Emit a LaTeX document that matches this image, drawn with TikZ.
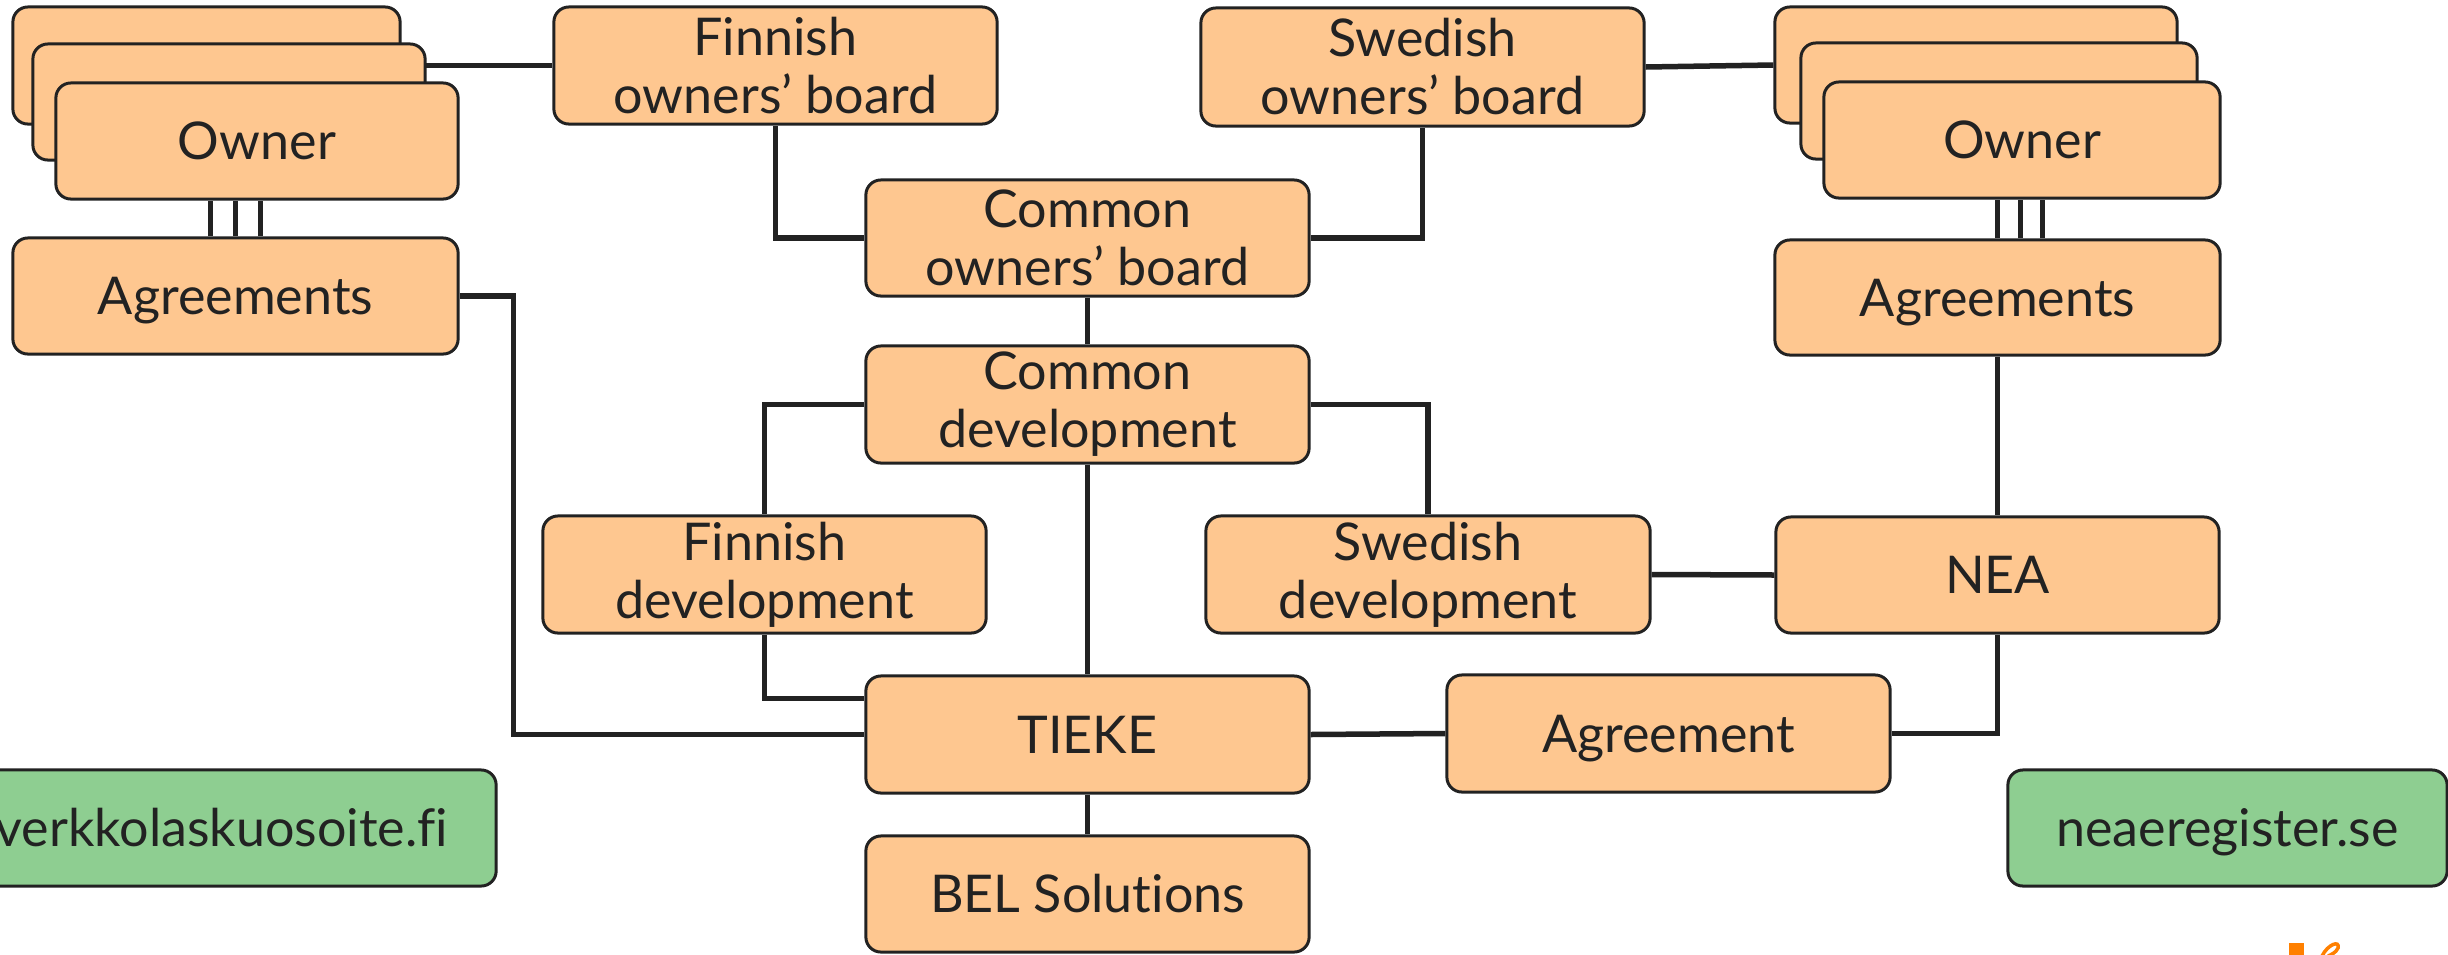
\documentclass[tikz,border=0pt]{standalone}
\usepackage{fontspec}
\setmainfont{Lato}[Ligatures={NoCommon}]
\usetikzlibrary{backgrounds}
\definecolor{boxorange}{HTML}{FEC790}
\definecolor{boxgreen}{HTML}{8ECE91}
\definecolor{ink}{HTML}{222222}
\definecolor{logoorange}{HTML}{FF8000}
\begin{document}
\begin{tikzpicture}[x=0.01cm,y=-0.01cm,
  box/.style={draw=ink, line width=0.03cm, fill=boxorange, rounded corners=0.15cm,
    minimum width=4.43cm, minimum height=1.16cm, inner sep=0pt, align=center,
    text=ink, font=\fontsize{14.8pt}{16.5pt}\selectfont},
  one/.style={text height=10.6pt, text depth=0pt},
  gbox/.style={box, one, fill=boxgreen},
  conn/.style={draw=ink, line width=0.055cm}]
\useasboundingbox (0,0) rectangle (2448,954);
\clip (0,0) rectangle (2448,954);
% left owners
\node[box, minimum width=3.87cm, minimum height=1.17cm] (own1L) at (206.5,65.5) {};
\node[box, minimum width=3.92cm] (own2L) at (229,102) {};
\node[box, one, minimum width=4.02cm] (ownL) at (257,141) {Owner};
\node[box, one, minimum width=4.45cm] (agrL) at (235.5,296) {Agreements};
% right owners
\node[box, minimum width=4.02cm] (own1R) at (1976,65) {};
\node[box, minimum width=3.96cm] (own2R) at (1999,101) {};
\node[box, one, minimum width=3.96cm] (ownR) at (2022,140) {Owner};
\node[box, one, minimum width=4.45cm, minimum height=1.15cm] (agrR) at (1997.5,297.5) {Agreements};
% boards
\node[box, minimum height=1.17cm] (FOB) at (775.5,65.5) {Finnish\\owners’ board};
\node[box, minimum height=1.18cm] (SOB) at (1422.5,67) {Swedish\\owners’ board};
\node[box] (COB) at (1087.5,238) {Common\\owners’ board};
\node[box, minimum height=1.17cm] (CD) at (1087.5,404.5) {Common\\development};
\node[box, minimum height=1.17cm] (FD) at (764.5,574.5) {Finnish\\development};
\node[box, minimum width=4.44cm, minimum height=1.17cm] (SD) at (1428,574.5) {Swedish\\development};
\node[box, one] (NEA) at (1997.5,575) {NEA};
\node[box, one, minimum height=1.17cm] (TIEKE) at (1087.5,734.5) {TIEKE};
\node[box, one, minimum height=1.17cm] (AGR) at (1668.5,733.5) {Agreement};
\node[box, one] (BEL) at (1087.5,894) {BEL Solutions};
\node[gbox, minimum width=5.48cm] (VERK) at (222,828) {verkkolaskuosoite.fi};
\node[gbox, minimum width=4.39cm] (NEAR) at (2227.5,828) {neaeregister.se};
% connectors
\begin{scope}[on background layer]
\draw[conn] (own1L.east) -- (FOB.west);
\foreach \dx in {-0.25,0,0.25}
  \draw[conn] ([xshift=\dx cm]agrL.north) -- ([xshift=\dx cm]agrL.north |- ownL.south);
\foreach \dx in {0,0.23,0.45}
  \draw[conn] ([xshift=\dx cm]agrR.north) -- ([xshift=\dx cm]agrR.north |- ownR.south);
\draw[conn] (FOB.south) |- (COB.west);
\draw[conn] (SOB.south) |- (COB.east);
\draw[conn] (SOB.east) -- (own1R.west);
\draw[conn] (COB.south) -- (CD.north);
\draw[conn] (CD.west) -| (FD.north);
\draw[conn] (CD.east) -| (SD.north);
\draw[conn] (CD.south) -- (TIEKE.north);
\draw[conn] (FD.south) |- ([yshift=0.36cm]TIEKE.west);
\draw[conn] (agrL.east) -- ++(54,0) |- (TIEKE.west);
\draw[conn] (SD.east) -- (NEA.west);
\draw[conn] (TIEKE.east) -- (AGR.west);
\draw[conn] (AGR.east) -| (NEA.south);
\draw[conn] (agrR.south) -- (NEA.north);
\draw[conn] (TIEKE.south) -- (BEL.north);
\end{scope}
% logo fragment
\fill[logoorange] (2289,943) rectangle (2304,956);
\draw[logoorange, line width=0.035cm] (2322,956) .. controls (2328,944) and (2340,940) .. (2338,948) .. controls (2336,953) and (2330,955) .. (2328,956);
\end{tikzpicture}
\end{document}
